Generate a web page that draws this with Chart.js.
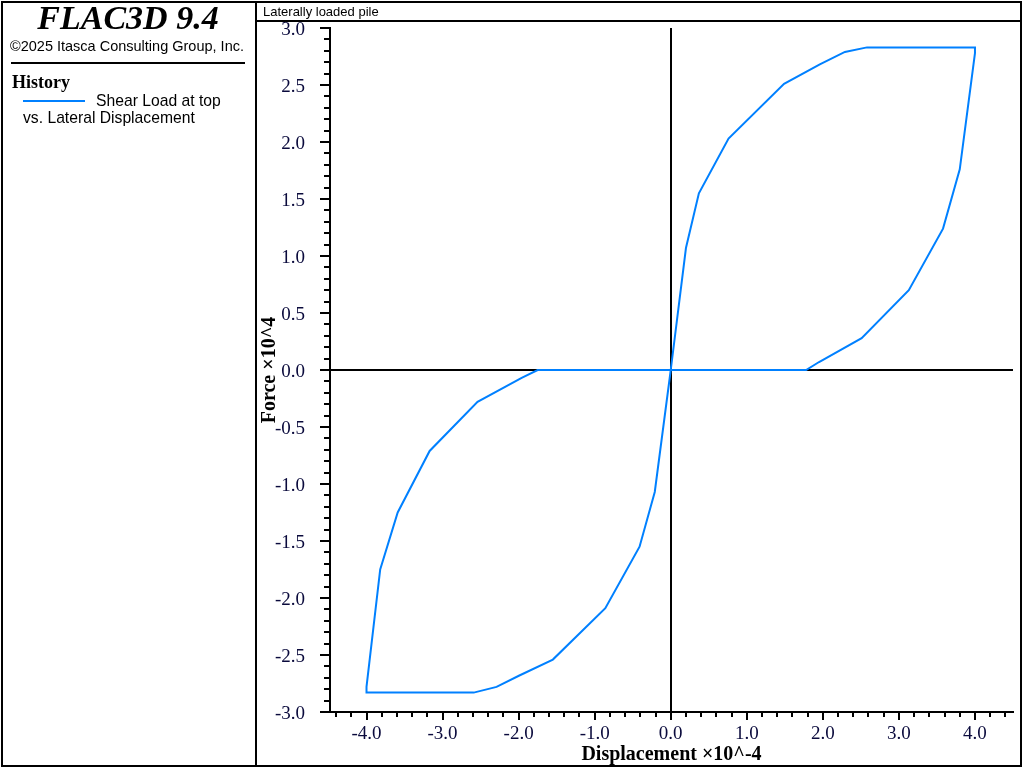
<!DOCTYPE html>
<html>
<head>
<meta charset="utf-8">
<title>Laterally loaded pile</title>
<script src="https://cdn.jsdelivr.net/npm/chart.js@4.4.1/dist/chart.umd.min.js"></script>
<style>
  html, body { margin: 0; padding: 0; background: #fff; }
  #plot { display: block; }
</style>
</head>
<body>
<canvas id="plot" width="1024" height="768"></canvas>
<script>
// History: shear load at top vs. lateral displacement (hysteresis loop)

/* ── Data (displacement ×10^-4, force ×10^4) ── */
const dispX = [0, 0.20, 0.37, 0.76, 1.49, 1.96, 2.29, 2.58, 4.00, 4.00, 3.80, 3.58, 3.13, 2.51, 1.95, 1.78,
               0, -0.21, -0.41, -0.86, -1.55, -1.99, -2.29, -2.59, -4.00, -4.00, -3.82, -3.59, -3.17, -2.54, -1.96, -1.75, 0];
const forceY = [0, 1.07, 1.55, 2.03, 2.51, 2.68, 2.79, 2.83, 2.83, 2.78, 1.76, 1.24, 0.70, 0.28, 0.07, 0,
                0, -1.07, -1.55, -2.09, -2.54, -2.68, -2.78, -2.83, -2.83, -2.78, -1.75, -1.25, -0.71, -0.28, -0.07, 0, 0];

/* ── Axis ticks ── */
const xMajorTicks = [-4, -3, -2, -1, 0, 1, 2, 3, 4];
const xTickLabels = ['-4.0', '-3.0', '-2.0', '-1.0', '0.0', '1.0', '2.0', '3.0', '4.0'];
const yMajorTicks = [-3, -2.5, -2, -1.5, -1, -0.5, 0, 0.5, 1, 1.5, 2, 2.5, 3];
const yTickLabels = ['-3.0', '-2.5', '-2.0', '-1.5', '-1.0', '-0.5', '0.0', '0.5', '1.0', '1.5', '2.0', '2.5', '3.0'];
const xMinorStep = 0.2;
const yMinorStep = 0.1;

const LINE_BLUE = '#0080ff';
const LABEL_COLOR = '#0a0a3c';

function isMajor(value, majors) {
  return majors.some(m => Math.abs(m - value) < 1e-6);
}

function labelFor(value, majors, labels) {
  const i = majors.findIndex(m => Math.abs(m - value) < 1e-6);
  return i >= 0 ? labels[i] : '';
}

function buildTicks(scale, step) {
  const ticks = [];
  const k0 = Math.ceil(scale.min / step - 1e-6);
  const k1 = Math.floor(scale.max / step + 1e-6);
  for (let k = k0; k <= k1; k++) {
    ticks.push({ value: Math.round(k * step * 100) / 100 });
  }
  scale.ticks = ticks;
}

/* ── Frame, header, left info panel and tick marks ── */
const framePlugin = {
  id: 'flacFrame',
  beforeDraw(chart) {
    const c = chart.ctx;
    c.save();
    c.fillStyle = '#fff';
    c.fillRect(0, 0, chart.width, chart.height);
    c.restore();
  },
  afterDraw(chart) {
    const c = chart.ctx;
    const xs = chart.scales.x, ys = chart.scales.y;
    c.save();
    c.strokeStyle = '#000';
    c.lineWidth = 2;

    // tick marks
    c.beginPath();
    xs.ticks.forEach(t => {
      const px = Math.round(xs.getPixelForValue(t.value));
      const len = isMajor(t.value, xMajorTicks) ? 8 : 5;
      c.moveTo(px, xs.top);
      c.lineTo(px, xs.top + len);
    });
    ys.ticks.forEach(t => {
      const py = Math.round(ys.getPixelForValue(t.value));
      const len = isMajor(t.value, yMajorTicks) ? 10 : 6;
      c.moveTo(ys.right, py);
      c.lineTo(ys.right - len, py);
    });
    c.stroke();

    // panel frames
    c.strokeRect(2, 2, 254, 764);
    c.strokeRect(256, 2, 765, 764);
    c.beginPath();
    c.moveTo(256, 21);
    c.lineTo(1021, 21);
    c.moveTo(11, 63);
    c.lineTo(245, 63);
    c.stroke();

    // legend sample
    c.strokeStyle = LINE_BLUE;
    c.beginPath();
    c.moveTo(23, 101);
    c.lineTo(85, 101);
    c.stroke();

    // texts
    c.fillStyle = '#000';
    c.textBaseline = 'alphabetic';
    c.textAlign = 'center';
    c.font = 'italic bold 34px "Liberation Serif", "Times New Roman", serif';
    c.fillText('FLAC3D 9.4', 128, 29);
    c.font = '14.5px "Liberation Sans", Arial, sans-serif';
    c.fillText('\u00a92025 Itasca Consulting Group, Inc.', 127, 51);

    c.textAlign = 'left';
    c.font = 'bold 18px "Liberation Serif", "Times New Roman", serif';
    c.fillText('History', 12, 88);
    c.font = '15.7px "Liberation Sans", Arial, sans-serif';
    c.fillText('Shear Load at top', 96, 106);
    c.fillText('vs. Lateral Displacement', 23, 123);

    c.font = '13px "Liberation Sans", Arial, sans-serif';
    c.fillText('Laterally loaded pile', 263, 16);
    c.restore();
  }
};

const zeroLine = ctx => (ctx.tick && Math.abs(ctx.tick.value) < 1e-9) ? '#000' : 'rgba(0,0,0,0)';

new Chart(document.getElementById('plot'), {
  type: 'scatter',
  data: {
    datasets: [{
      label: 'Shear Load at top vs. Lateral Displacement',
      data: dispX.map((x, i) => ({ x, y: forceY[i] })),
      showLine: true,
      borderColor: LINE_BLUE,
      backgroundColor: LINE_BLUE,
      borderWidth: 2,
      pointRadius: 0,
      tension: 0
    }]
  },
  options: {
    responsive: false,
    animation: false,
    devicePixelRatio: 1,
    layout: { padding: { left: 256, right: 11, top: 28, bottom: 0 } },
    plugins: {
      legend: { display: false },
      tooltip: { enabled: false }
    },
    scales: {
      x: {
        type: 'linear',
        min: -4.48,
        max: 4.5,
        afterBuildTicks: s => buildTicks(s, xMinorStep),
        afterFit: s => { s.height = 56; s.paddingLeft = 0; s.paddingRight = 0; },
        grid: { color: zeroLine, lineWidth: 2, drawTicks: false },
        border: { display: true, color: '#000', width: 2 },
        ticks: {
          autoSkip: false,
          maxRotation: 0,
          padding: 11,
          color: LABEL_COLOR,
          font: { family: '"Liberation Serif", "Times New Roman", serif', size: 19 },
          callback: v => labelFor(v, xMajorTicks, xTickLabels)
        },
        title: {
          display: true,
          text: 'Displacement \u00d710^-4',
          color: '#000',
          padding: { top: 0, bottom: 1 },
          font: { family: '"Liberation Serif", "Times New Roman", serif', size: 20, weight: 'bold' }
        }
      },
      y: {
        type: 'linear',
        min: -3,
        max: 3,
        afterBuildTicks: s => buildTicks(s, yMinorStep),
        afterFit: s => { s.width = 74; s.paddingTop = 0; s.paddingBottom = 0; },
        grid: { color: zeroLine, lineWidth: 2, drawTicks: false },
        border: { display: true, color: '#000', width: 2 },
        ticks: {
          autoSkip: false,
          padding: 25,
          labelOffset: 2,
          color: LABEL_COLOR,
          font: { family: '"Liberation Serif", "Times New Roman", serif', size: 19 },
          callback: v => labelFor(v, yMajorTicks, yTickLabels)
        },
        title: {
          display: true,
          text: 'Force \u00d710^4',
          color: '#000',
          padding: { top: 2, bottom: 0 },
          font: { family: '"Liberation Serif", "Times New Roman", serif', size: 20, weight: 'bold' }
        }
      }
    }
  },
  plugins: [framePlugin]
});
</script>
</body>
</html>
